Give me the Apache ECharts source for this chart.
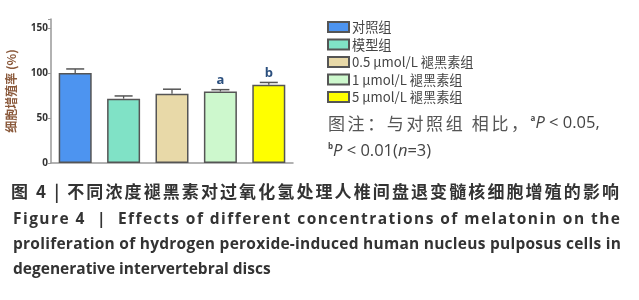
<!DOCTYPE html>
<html>
<head>
<meta charset="utf-8">
<script src="https://cdn.jsdelivr.net/npm/echarts@6/dist/echarts.min.js"></script>
<style>
  html, body { margin: 0; padding: 0; background: #fff; }
  #chart { width: 639px; height: 300px; }
</style>
</head>
<body>
<div id="chart"></div>
<script>
    // 数据
    var groupNames = ['对照组', '模型组', '0.5 μmol/L 褪黑素组', '1 μmol/L 褪黑素组', '5 μmol/L 褪黑素组'];
    var meanValues = [100, 71.5, 77, 79.5, 87];
    var errValues = [4.5, 3, 5, 2, 2.5];
    var sigMarks = ['', '', '', 'a', 'b'];
    var barColors = ['#4d94f0', '#80e2c6', '#e8d9a8', '#cdf8cd', '#ffff00'];
    var yTicks = [0, 50, 100, 150];

    var chart = echarts.init(document.getElementById('chart'));

    var cjk = '"Noto Sans CJK SC", "Lato", sans-serif';

    // 用字间距把一行文字撑到指定宽度（原图是两端对齐排版）
    var measureCtx = document.createElement('canvas').getContext('2d');
    function spread(str, font, width) {
        measureCtx.font = font;
        var natural = measureCtx.measureText(str).width;
        var chars = Array.from(str);
        var pad = chars.length > 1 ? (width - natural) / (chars.length - 1) : 0;
        var text = chars.map(function (c) { return '{c|' + c + '}'; }).join('');
        return { text: text, rich: { c: { font: font, padding: [0, pad, 0, 0] } } };
    }

    var series = [];
    for (var i = 0; i < groupNames.length; i++) {
        var d = [];
        for (var j = 0; j < groupNames.length; j++) {
            d.push(j === i ? meanValues[j] : null);
        }
        series.push({
            name: groupNames[i],
            type: 'bar',
            barWidth: 33,
            barGap: '-100%',
            itemStyle: { color: barColors[i], borderColor: '#555', borderWidth: 1.5 },
            data: d
        });
    }

    // 误差线 + 显著性标记
    var errData = [];
    for (var k = 0; k < meanValues.length; k++) {
        errData.push([k, meanValues[k], errValues[k]]);
    }
    series.push({
        type: 'custom',
        name: 'err',
        z: 5,
        renderItem: function (params, api) {
            var idx = api.value(0);
            var top = api.coord([idx, api.value(1) + api.value(2)]);
            var base = api.coord([idx, api.value(1)]);
            var children = [
                { type: 'line', shape: { x1: top[0], y1: base[1], x2: top[0], y2: top[1] }, style: { stroke: '#555', lineWidth: 1.3 } },
                { type: 'line', shape: { x1: top[0] - 9, y1: top[1], x2: top[0] + 9, y2: top[1] }, style: { stroke: '#555', lineWidth: 1.5 } }
            ];
            if (sigMarks[idx]) {
                children.push({
                    type: 'text',
                    style: {
                        text: sigMarks[idx], x: top[0], y: top[1] - 3,
                        align: 'center', verticalAlign: 'bottom',
                        fill: '#2b4f7e', font: 'bold 13px "Open Sans", sans-serif'
                    }
                });
            }
            return { type: 'group', children: children };
        },
        data: errData
    });

    // 图注
    var noteCn = spread('图注：与对照组 相比，', '17px "Noto Sans CJK SC"', 200);
    var noteRich1 = {
        c: noteCn.rich.c,
        s: { fontFamily: 'Open Sans', fontWeight: 'bold', fontSize: 8, fill: '#444', verticalAlign: 'top', padding: [0, 0, 9, 0] },
        p: { fontFamily: 'Open Sans', fontStyle: 'italic', fontSize: 16.5, fill: '#444' },
        n: { fontFamily: 'Open Sans', fontSize: 16.5, fill: '#444' }
    };
    noteRich1.c.fill = '#555';

    var cap1 = spread('图 4 | 不同浓度褪黑素对过氧化氢处理人椎间盘退变髓核细胞增殖的影响', 'bold 17px "Noto Sans CJK SC"', 608);
    var cap2 = spread('Figure 4  |  Effects of different concentrations of melatonin on the', 'bold 15.5px "Open Sans"', 607);
    var cap3 = spread('proliferation of hydrogen peroxide-induced human nucleus pulposus cells in', 'bold 15.5px "Open Sans"', 608);
    cap1.rich.c.fill = '#333';
    cap2.rich.c.fill = '#333';
    cap3.rich.c.fill = '#333';

    var option = {
        animation: false,
        grid: { left: 51, right: 346, top: 19, bottom: 137 },
        legend: {
            orient: 'vertical',
            left: 327,
            top: 20,
            padding: 0,
            itemWidth: 21,
            itemHeight: 10,
            itemGap: 3.5,
            icon: 'rect',
            data: groupNames,
            textStyle: { fontFamily: cjk, fontSize: 13.2, lineHeight: 14, color: '#444', padding: [0, 0, 0, -2] }
        },
        xAxis: {
            type: 'category',
            data: groupNames,
            axisLine: { lineStyle: { color: '#999', width: 1.5 } },
            axisTick: { show: false },
            axisLabel: { show: false }
        },
        yAxis: {
            type: 'value',
            min: 0,
            max: 160,
            interval: 50,
            name: '细胞增殖率 (%)',
            nameLocation: 'middle',
            nameGap: 34,
            nameTextStyle: { fontFamily: cjk, fontSize: 12, color: '#8b5a3c', fontWeight: 'bold' },
            splitLine: { show: false },
            axisLine: { show: true, lineStyle: { color: '#999', width: 1.5 } },
            axisTick: { show: true, length: 3, lineStyle: { color: '#999' } },
            axisLabel: {
                fontFamily: 'Open Sans, sans-serif', fontSize: 10, fontWeight: 'bold', color: '#333', margin: 3,
                formatter: function (v) { return yTicks.indexOf(v) >= 0 ? String(v) : ''; }
            }
        },
        graphic: [
            {
                type: 'text', left: 328, top: 115,
                style: {
                    text: noteCn.text + '{s|a}{p|P}{n| < 0.05,}',
                    rich: noteRich1
                }
            },
            {
                type: 'text', left: 328, top: 143,
                style: {
                    text: '{s|b}{p|P}{n| < 0.01(}{p|n}{n|=3)}',
                    rich: noteRich1
                }
            },
            { type: 'text', left: 11, top: 183, style: { text: cap1.text, rich: cap1.rich } },
            { type: 'text', left: 13, top: 212, style: { text: cap2.text, rich: cap2.rich } },
            { type: 'text', left: 13, top: 237, style: { text: cap3.text, rich: cap3.rich } },
            {
                type: 'text', left: 13, top: 262,
                style: { text: 'degenerative intervertebral discs', font: 'bold 15.5px "Open Sans", sans-serif', fill: '#333' }
            }
        ],
        series: series
    };

    chart.setOption(option);
</script>
</body>
</html>
